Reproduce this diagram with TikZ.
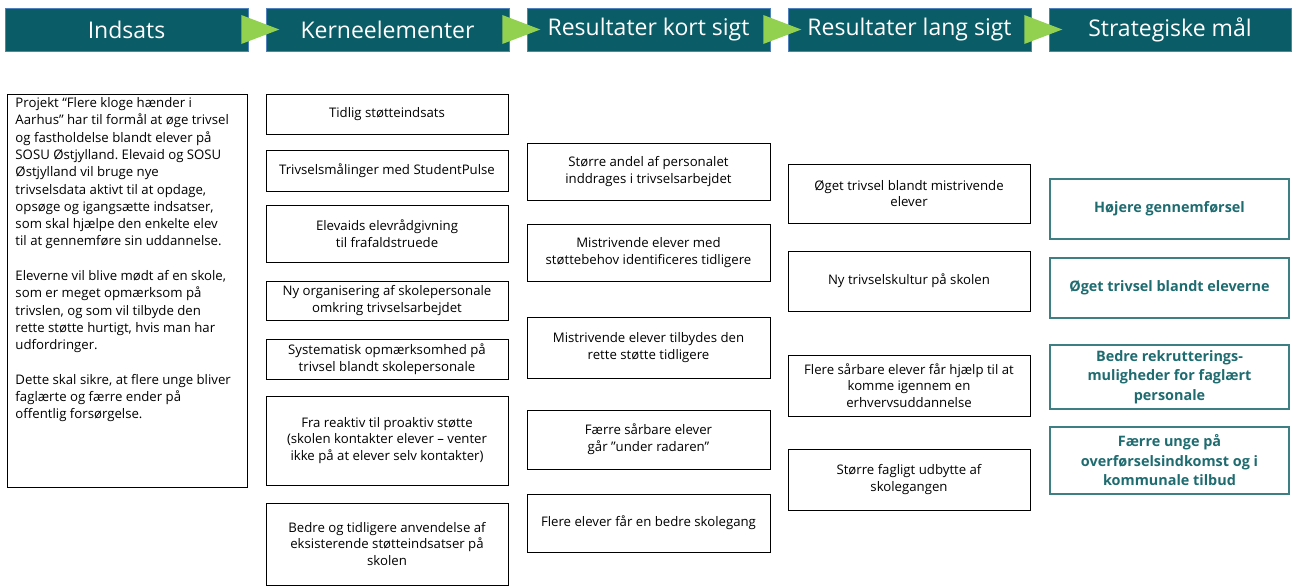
\documentclass[tikz,border=0pt]{standalone}
\usepackage{fontspec}
\setmainfont{Open Sans}
\frenchspacing
\usetikzlibrary{calc}
\definecolor{hdr}{HTML}{0A5C66}
\definecolor{hdrline}{HTML}{4F81BD}
\definecolor{arrowgreen}{HTML}{92D050}
\definecolor{goaltext}{HTML}{1E6B70}
\definecolor{goalline}{HTML}{3D7F83}
\begin{document}
\begin{tikzpicture}[x=1pt,y=-1pt,
  hdrbox/.style={draw=hdrline, line width=0.6pt, fill=hdr, text=white, minimum height=43pt, inner sep=0pt, font=\fontsize{23}{26}\selectfont},
  box/.style={draw=black, line width=1pt, align=center, inner sep=2pt, font=\fontsize{13.2}{16.8}\selectfont},
  kbox/.style={box, minimum width=242pt},
  rbox/.style={box, minimum width=243pt},
  lbox/.style={box, minimum width=242pt},
  goal/.style={draw=goalline, line width=1.2pt, text=goaltext, align=center, inner sep=2pt, minimum width=239pt, font=\bfseries\fontsize{14.4}{19.5}\selectfont},
  tri/.style={fill=arrowgreen}]
\useasboundingbox (0,0) rectangle (1293,587);

% headers
\node[hdrbox, minimum width=243pt] (h1) at (126.5,29.5) {Indsats};
\node[hdrbox, minimum width=243pt] (h2) at (387.5,29.5) {Kerneelementer};
\node[hdrbox, minimum width=243pt] (h3) at (648.5,29.5) {Resultater kort sigt};
\node[hdrbox, minimum width=243pt] (h4) at (909.5,29.5) {Resultater lang sigt};
\node[hdrbox, minimum width=242pt] (h5) at (1170,29.5) {Strategiske mål};
\foreach \a in {h1,h2,h3,h4}{
  \fill[tri] ($(\a.east)+(-7,-14.5)$) -- ($(\a.east)+(31,0)$) -- ($(\a.east)+(-7,14.5)$) -- cycle;
}

% intro box
\node[draw=black, line width=1pt, anchor=north west, inner xsep=8pt, inner ysep=3pt, font=\fontsize{13.2}{17.3}\selectfont] (intro) at (7,94)
{\parbox[c][387pt][t]{224pt}{\raggedright
Projekt “Flere kloge hænder i\\
Aarhus” har til formål at øge trivsel\\
og fastholdelse blandt elever på\\
SOSU Østjylland. Elevaid og SOSU\\
Østjylland vil bruge nye\\
trivselsdata aktivt til at opdage,\\
opsøge og igangsætte indsatser,\\
som skal hjælpe den enkelte elev\\
til at gennemføre sin uddannelse.\\[17.3pt]
Eleverne vil blive mødt af en skole,\\
som er meget opmærksom på\\
trivslen, og som vil tilbyde den\\
rette støtte hurtigt, hvis man har\\
udfordringer.\\[17.3pt]
Dette skal sikre, at flere unge bliver\\
faglærte og færre ender på\\
offentlig forsørgelse.}};

% Kerneelementer
\node[kbox, minimum height=40pt] (k1) at (387,114) {Tidlig støtteindsats};
\node[kbox, minimum height=41pt] (k2) at (387,170.5) {Trivselsmålinger med StudentPulse};
\node[kbox, minimum height=57pt] (k3) at (387,233.5) {Elevaids elevrådgivning\\til frafaldstruede};
\node[kbox, minimum height=39pt] (k4) at (387,300.5) {Ny organisering af skolepersonale\\omkring trivselsarbejdet};
\node[kbox, minimum height=40pt] (k5) at (387,359) {Systematisk opmærksomhed på\\trivsel blandt skolepersonale};
\node[kbox, minimum height=89pt] (k6) at (387,440.5) {Fra reaktiv til proaktiv støtte\\(skolen kontakter elever – venter\\ikke på at elever selv kontakter)};
\node[kbox, minimum height=82pt] (k7) at (387,544) {Bedre og tidligere anvendelse af\\eksisterende støtteindsatser på\\skolen};

% Resultater kort sigt
\node[rbox, minimum height=57pt] (r1) at (648.5,171.5) {Større andel af personalet\\inddrages i trivselsarbejdet};
\node[rbox, minimum height=57pt] (r2) at (648.5,252.5) {Mistrivende elever med\\støttebehov identificeres tidligere};
\node[rbox, minimum height=61pt] (r3) at (648.5,347.5) {Mistrivende elever tilbydes den\\rette støtte tidligere};
\node[rbox, minimum height=59pt] (r4) at (648.5,439.5) {Færre sårbare elever\\går ”under radaren”};
\node[rbox, minimum height=58pt] (r5) at (648.5,523) {Flere elever får en bedre skolegang};

% Resultater lang sigt
\node[lbox, minimum height=59pt] (l1) at (909,193.5) {Øget trivsel blandt mistrivende\\elever};
\node[lbox, minimum height=60pt] (l2) at (909,281) {Ny trivselskultur på skolen};
\node[lbox, minimum height=61pt] (l3) at (909,385.5) {Flere sårbare elever får hjælp til at\\komme igennem en\\erhvervsuddannelse};
\node[lbox, minimum height=61pt] (l4) at (909,479.5) {Større fagligt udbytte af\\skolegangen};

% Strategiske mål
\node[goal, minimum height=60pt] (s1) at (1169.5,209) {Højere gennemførsel};
\node[goal, minimum height=60pt] (s2) at (1169.5,288) {Øget trivsel blandt eleverne};
\node[goal, minimum height=64pt] (s3) at (1169.5,377) {Bedre rekrutterings-\\muligheder for faglært\\personale};
\node[goal, minimum height=67pt] (s4) at (1169.5,460.5) {Færre unge på\\overførselsindkomst og i\\kommunale tilbud};
\end{tikzpicture}
\end{document}
